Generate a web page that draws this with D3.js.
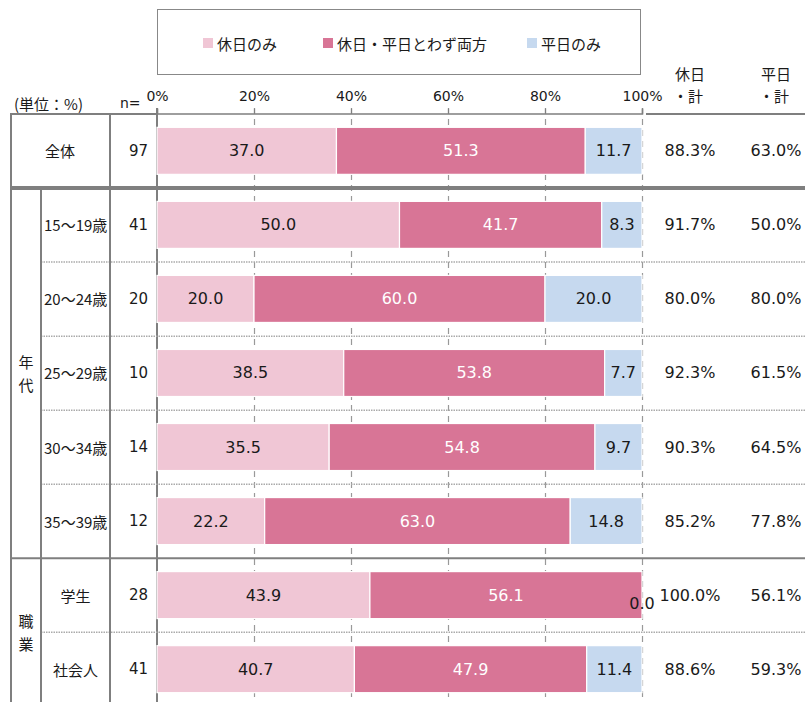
<!DOCTYPE html>
<html><head><meta charset="utf-8">
<script src="https://cdn.jsdelivr.net/npm/d3@7"></script>
<style>
html,body{margin:0;padding:0;background:#fff;}
svg text{font-family:"Noto Sans CJK JP","Noto Sans",sans-serif;}
.num{font-family:"DejaVu Sans",Verdana,sans-serif !important;}
</style></head>
<body>
<svg id="c" width="805" height="702"></svg>
<script>
const categories = ["全体","15～19歳","20～24歳","25～29歳","30～34歳","35～39歳","学生","社会人"];
const nValues = [97,41,20,10,14,12,28,41];
const holidayOnly = [37.0,50.0,20.0,38.5,35.5,22.2,43.9,40.7];
const both = [51.3,41.7,60.0,53.8,54.8,63.0,56.1,47.9];
const weekdayOnly = [11.7,8.3,20.0,7.7,9.7,14.8,0.0,11.4];
const holidayTotal = ["88.3%","91.7%","80.0%","92.3%","90.3%","85.2%","100.0%","88.6%"];
const weekdayTotal = ["63.0%","50.0%","80.0%","61.5%","64.5%","77.8%","56.1%","59.3%"];
const seriesNames = ["休日のみ","休日・平日とわず両方","平日のみ"];
const seriesColors = ["#F0C6D5","#D87596","#C6D9EF"];
const labelColors = ["#1a1a1a","#ffffff","#1a1a1a"];
const xTicks = [0,20,40,60,80,100];
const groups = [{name:"年代", from:1, to:5},{name:"職業", from:6, to:7}];

const svg = d3.select("#c");
const W = 805, H = 702;
const x = d3.scaleLinear().domain([0,100]).range([157,642]);
const y = d3.scaleBand().domain(categories).range([114,706]).paddingInner(0.365).paddingOuter(0.18);
const step = y.step();
const rowTop = i => 114 + i*step;
const rowMid = i => y(categories[i]) + y.bandwidth()/2;
const gray = "#7f7f7f";

// legend
svg.append("rect").attr("x",157.5).attr("y",9.5).attr("width",483).attr("height",65)
  .attr("fill","#fff").attr("stroke","#888").attr("stroke-width",1);
const legX = [203,323,527];
seriesNames.forEach((s,i)=>{
  svg.append("rect").attr("x",legX[i]).attr("y",38).attr("width",10).attr("height",10).attr("fill",seriesColors[i]);
  svg.append("text").attr("x",legX[i]+14).attr("y",43).attr("dominant-baseline","central")
    .attr("font-size",15).attr("fill","#1a1a1a").text(s);
});

// header texts
svg.append("text").attr("x",14).attr("y",103).attr("dominant-baseline","central").attr("font-size",15).attr("fill","#1a1a1a").text("(単位：%)");
svg.append("text").attr("x",120).attr("y",103).attr("dominant-baseline","central").attr("font-size",14).attr("fill","#1a1a1a").attr("class","num").text("n=");
[["休日","・計",690],["平日","・計",776]].forEach(h=>{
  svg.append("text").attr("x",h[2]).attr("y",73).attr("text-anchor","middle").attr("dominant-baseline","central").attr("font-size",15).attr("fill","#1a1a1a").text(h[0]);
  svg.append("text").attr("x",h[2]-2).attr("y",95).attr("text-anchor","middle").attr("dominant-baseline","central").attr("font-size",15).attr("fill","#1a1a1a").text(h[1]);
});

// gridlines
const grid = svg.append("g");
xTicks.filter(t=>t>0).forEach(t=>{
  grid.append("line").attr("x1",x(t)+0.5).attr("x2",x(t)+0.5).attr("y1",108).attr("y2",H)
    .attr("stroke","#999").attr("stroke-width",1.2).attr("stroke-dasharray","6,5");
});
// top axis
const axis = d3.axisTop(x).tickValues(xTicks).tickFormat(d=>d+"%").tickSize(5).tickPadding(6);
const ag = svg.append("g").attr("transform","translate(0,113.5)").call(axis);
ag.select(".domain").attr("stroke",gray).attr("stroke-width",1.5);
ag.selectAll(".tick line").attr("stroke",gray).attr("stroke-width",1.2);
ag.selectAll(".tick text").attr("class","num").attr("font-size",14).attr("fill","#1a1a1a").attr("dy","-2");

// 0% axis line
svg.append("line").attr("x1",157).attr("x2",157).attr("y1",108).attr("y2",H).attr("stroke",gray).attr("stroke-width",2);

// table lines
const tl = svg.append("g").attr("stroke",gray);
tl.append("line").attr("x1",11).attr("x2",157).attr("y1",114).attr("y2",114).attr("stroke-width",2);
tl.append("line").attr("x1",646).attr("x2",W).attr("y1",114).attr("y2",114).attr("stroke-width",2);
tl.append("line").attr("x1",11).attr("x2",W).attr("y1",rowTop(1)).attr("y2",rowTop(1)).attr("stroke-width",4);
tl.append("line").attr("x1",11).attr("x2",W).attr("y1",rowTop(6)).attr("y2",rowTop(6)).attr("stroke-width",2);
[2,3,4,5,7].forEach(i=>{
  tl.append("line").attr("x1",41).attr("x2",W).attr("y1",rowTop(i)).attr("y2",rowTop(i))
    .attr("stroke","#aaa").attr("stroke-width",1.5).attr("stroke-dasharray","1.5,1");
});
tl.append("line").attr("x1",11).attr("x2",11).attr("y1",113).attr("y2",H).attr("stroke-width",2);
tl.append("line").attr("x1",41).attr("x2",41).attr("y1",rowTop(1)).attr("y2",H).attr("stroke-width",2);
tl.append("line").attr("x1",110).attr("x2",110).attr("y1",113).attr("y2",H).attr("stroke-width",2);

// bars
const data = categories.map((c,i)=>({cat:c, vals:[holidayOnly[i],both[i],weekdayOnly[i]]}));
const barG = svg.append("g");
data.forEach((d,i)=>{
  let acc = 0;
  d.vals.forEach((v,k)=>{
    const x0 = x(acc), x1 = x(acc+v);
    if (v>0) {
      barG.append("rect").attr("x",x0).attr("y",y(d.cat)).attr("width",x1-x0).attr("height",y.bandwidth())
        .attr("fill",seriesColors[k]).attr("stroke","#fff").attr("stroke-width",1.2);
    }
    const lbl = barG.append("text").attr("class","num").attr("text-anchor","middle").attr("dominant-baseline","central")
      .attr("font-size",16).attr("fill",labelColors[k]).text(v.toFixed(1));
    if (v>0) lbl.attr("x",(x0+x1)/2).attr("y",rowMid(i));
    else lbl.attr("x",x0).attr("y",rowMid(i)+8);
    acc += v;
  });
});

// table texts
categories.forEach((c,i)=>{
  const cx = i===0 ? 60 : (c.length>3 ? 44 : 75.5);
  svg.append("text").attr("x",cx).attr("y",rowMid(i)).attr("text-anchor", i===0||c.length<=3 ? "middle":"start")
    .attr("dominant-baseline","central").attr("font-size",15).attr("fill","#1a1a1a").text(c);
  svg.append("text").attr("class","num").attr("x",148).attr("y",rowMid(i)).attr("text-anchor","end")
    .attr("dominant-baseline","central").attr("font-size",15).attr("fill","#1a1a1a").text(nValues[i]);
  svg.append("text").attr("class","num").attr("x",690).attr("y",rowMid(i)).attr("text-anchor","middle")
    .attr("dominant-baseline","central").attr("font-size",16).attr("fill","#1a1a1a").text(holidayTotal[i]);
  svg.append("text").attr("class","num").attr("x",776).attr("y",rowMid(i)).attr("text-anchor","middle")
    .attr("dominant-baseline","central").attr("font-size",16).attr("fill","#1a1a1a").text(weekdayTotal[i]);
});
groups.forEach(g=>{
  const top = rowTop(g.from), bot = Math.min(rowTop(g.to+1), 708);
  const mid = (top+bot)/2;
  const chars = g.name.split("");
  chars.forEach((ch,j)=>{
    svg.append("text").attr("x",26).attr("y",mid + (j-(chars.length-1)/2)*23).attr("text-anchor","middle")
      .attr("dominant-baseline","central").attr("font-size",15).attr("fill","#1a1a1a").text(ch);
  });
});
</script>
</body></html>
